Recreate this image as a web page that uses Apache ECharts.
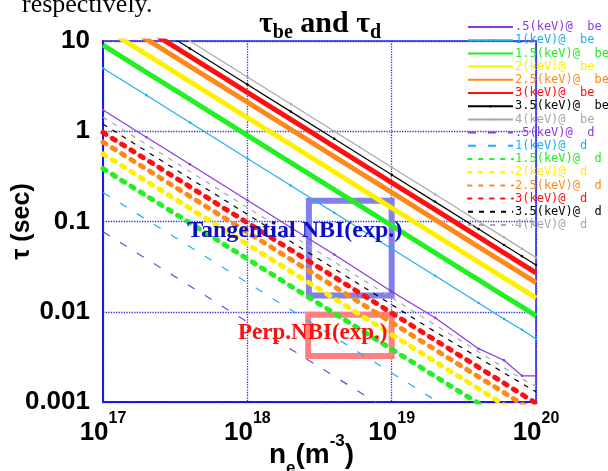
<!DOCTYPE html>
<html><head><meta charset="utf-8">
<script src="https://cdn.jsdelivr.net/npm/echarts@6/dist/echarts.min.js"></script>
<style>html,body{margin:0;padding:0;background:#fff}#c{width:608px;height:471px}</style>
</head><body><div id="c"></div>
<script>
// electron density samples (m^-3)
const ne = [1e17, 2e17, 4e17, 1e18, 2e18, 4e18, 1e19, 2e19, 4e19, 6e19, 8e19, 1e20];

// tau_be (sec) for Te = .5 ... 4 keV
const tauBe05 = [1.72, 0.86, 0.43, 0.172, 0.086, 0.043, 0.0168, 0.0086, 0.0039, 0.0029, 0.00195, 0.00195];
const tauBe10 = [5.0, 2.5, 1.25, 0.5, 0.25, 0.125, 0.05, 0.025, 0.0125, 0.0083, 0.0063, 0.005];
const tauBe15 = [9.0, 4.5, 2.25, 0.9, 0.45, 0.225, 0.09, 0.045, 0.0225, 0.015, 0.0113, 0.009];
const tauBe20 = [14.2, 7.1, 3.55, 1.42, 0.71, 0.355, 0.142, 0.071, 0.0355, 0.0237, 0.0178, 0.0142];
const tauBe25 = [21, 10.5, 5.25, 2.1, 1.05, 0.525, 0.21, 0.105, 0.0525, 0.035, 0.0263, 0.021];
const tauBe30 = [27, 13.5, 6.75, 2.7, 1.35, 0.675, 0.27, 0.135, 0.0675, 0.045, 0.0338, 0.027];
const tauBe35 = [33, 16.5, 8.25, 3.3, 1.65, 0.825, 0.33, 0.165, 0.0825, 0.055, 0.0413, 0.033];
const tauBe40 = [40, 20, 10, 4.0, 2.0, 1.0, 0.4, 0.2, 0.1, 0.0667, 0.05, 0.04];

// tau_d (sec)
const tauD05 = [0.077, 0.0385, 0.0193, 0.0077, 0.00385, 0.00193, 0.00077, 0.000385, 0.000193, 0.000128, 0.0000963, 0.000077];
const tauD10 = [0.21, 0.105, 0.0525, 0.021, 0.0105, 0.00525, 0.0021, 0.00105, 0.000525, 0.00035, 0.000263, 0.00021];
const tauD15 = [0.385, 0.1925, 0.0963, 0.0385, 0.01925, 0.00963, 0.00385, 0.001925, 0.000963, 0.000642, 0.000481, 0.000385];
const tauD20 = [0.56, 0.28, 0.14, 0.056, 0.028, 0.014, 0.0056, 0.0028, 0.0014, 0.000933, 0.0007, 0.00056];
const tauD25 = [0.76, 0.38, 0.19, 0.076, 0.038, 0.019, 0.0076, 0.0038, 0.0019, 0.00127, 0.00095, 0.00076];
const tauD30 = [0.97, 0.485, 0.2425, 0.097, 0.0485, 0.02425, 0.0097, 0.00485, 0.002425, 0.00162, 0.00121, 0.00097];
const tauD35 = [1.2, 0.6, 0.3, 0.12, 0.06, 0.03, 0.012, 0.006, 0.0031, 0.0021, 0.0016, 0.0013];
const tauD40 = [1.43, 0.715, 0.358, 0.143, 0.0715, 0.0358, 0.0143, 0.00715, 0.0036, 0.0024, 0.0018, 0.0015];

const temps = ['.5', '1', '1.5', '2', '2.5', '3', '3.5', '4'];
const xTickExp = ['17', '18', '19', '20'];
const yTickLabels = ['0.001', '0.01', '0.1', '1', '10'];

// annotation boxes [[x1,y1],[x2,y2]] and label anchors
const tangentialBox = [[2.67e18, 0.17], [1e19, 0.0151]];
const perpBox = [[2.64e18, 0.00926], [1e19, 0.00324]];
const tangentialLabelAt = [2.13e18, 0.0794];
const perpLabelAt = [2.84e18, 0.00585];

const colors = ['#8a3be0', '#20aef0', '#22f022', '#fff000', '#ff8a1c', '#ff0f0f', '#000000', '#a8a8a8'];
const beData = [tauBe05, tauBe10, tauBe15, tauBe20, tauBe25, tauBe30, tauBe35, tauBe40];
const dData = [tauD05, tauD10, tauD15, tauD20, tauD25, tauD30, tauD35, tauD40];
const thick = [false, false, true, true, true, true, false, false];
const dotted = [true, true, false, false, false, false, true, true];

const series = [];
const legendData = [];
temps.forEach((t, i) => {
  const name = t + '(keV)@  be';
  series.push({
    name, type: 'line', clip: true, silent: true,
    data: ne.map((n, k) => [n, beData[i][k]]),
    symbol: dotted[i] ? 'circle' : 'none', symbolSize: 2.5,
    itemStyle: { color: colors[i] },
    lineStyle: { color: colors[i], width: thick[i] ? 5 : 1.2, type: 'solid' }
  });
  legendData.push({ name, textStyle: { color: colors[i] } });
});
temps.forEach((t, i) => {
  const name = t + '(keV)@  d';
  let ls;
  if (thick[i]) ls = { color: colors[i], width: 5, type: [3.5, 7.5], cap: 'round' };
  else if (i < 2) ls = { color: colors[i], width: 1.2, type: [8, 12] };
  else ls = { color: colors[i], width: 1.2, type: [5, 6] };
  series.push({
    name, type: 'line', clip: true, silent: true,
    data: ne.map((n, k) => [n, dData[i][k]]),
    symbol: 'none',
    itemStyle: { color: colors[i] },
    lineStyle: ls
  });
  legendData.push({ name, textStyle: { color: colors[i] }, itemStyle: { opacity: 0 } });
});
legendData.forEach((d, i) => { if (i < 8 && !dotted[i]) d.itemStyle = { opacity: 0 }; });

series.push({
  name: 'annot', type: 'line', data: [], silent: true, z: 10,
  markArea: {
    silent: true,
    label: { show: false },
    data: [
      [{ coord: tangentialBox[0], itemStyle: { color: 'rgba(0,0,0,0)', borderColor: '#8080e8', borderWidth: 6 } }, { coord: tangentialBox[1] }],
      [{ coord: perpBox[0], itemStyle: { color: 'rgba(0,0,0,0)', borderColor: '#ff8080', borderWidth: 6 } }, { coord: perpBox[1] }]
    ]
  },
  markPoint: {
    silent: true, symbol: 'circle', symbolSize: 1,
    itemStyle: { color: 'rgba(0,0,0,0)' },
    data: [
      { coord: tangentialLabelAt, label: { show: true, position: 'inside', formatter: 'Tangential NBI(exp.)', color: '#0c0cc4', fontSize: 24, fontWeight: 'bold', fontFamily: 'Liberation Serif' } },
      { coord: perpLabelAt, label: { show: true, position: 'inside', formatter: 'Perp.NBI(exp.)', color: '#ff1010', fontSize: 23, fontWeight: 'bold', fontFamily: 'Liberation Serif' } }
    ]
  }
});

const serif = 'Liberation Serif';
const sans = 'Liberation Sans';
const chart = echarts.init(document.getElementById('c'), null, { renderer: 'canvas' });
chart.setOption({
  animation: false,
  backgroundColor: '#fff',
  title: {
    text: '{t|τ}{s|be}{t| and τ}{s|d}',
    left: 254, top: 0,
    textStyle: {
      rich: {
        t: { fontSize: 30, fontWeight: 'bold', fontFamily: serif, color: '#000', lineHeight: 38 },
        s: { fontSize: 20, fontWeight: 'bold', fontFamily: serif, color: '#000', lineHeight: 20, verticalAlign: 'bottom' }
      }
    }
  },
  graphic: [{
    type: 'text', left: 22, top: -8, silent: true,
    style: { text: 'respectively.', font: '26px "Liberation Serif"', fill: '#000' }
  }],
  legend: {
    orient: 'vertical', left: 467, top: 21, itemWidth: 45, itemHeight: 3, itemGap: 1.2,
    selectedMode: false, padding: 0,
    textStyle: { fontFamily: 'DejaVu Sans Mono', fontSize: 12, lineHeight: 12, padding: [0, 0, 0, -3] },
    data: legendData
  },
  grid: { left: 103, right: 72, top: 41, bottom: 69, outerBoundsMode: 'none', containLabel: false, show: true, borderColor: '#2424e6', borderWidth: 1.5, backgroundColor: 'rgba(0,0,0,0)' },
  xAxis: {
    type: 'log', logBase: 10, min: 1e17, max: 1e20,
    axisLine: { lineStyle: { color: '#1a1ae6', width: 2 } },
    axisTick: { show: false },
    splitLine: { show: true, lineStyle: { color: '#3030e0', type: 'dotted', width: 1.3 } },
    axisLabel: {
      margin: 9, showMinLabel: true, showMaxLabel: true, hideOverlap: false,
      formatter: v => '{b|10}{s|' + xTickExp[Math.round(Math.log10(v)) - 17] + '}',
      rich: {
        b: { fontSize: 26, fontWeight: 'bold', fontFamily: sans, color: '#000', lineHeight: 44 },
        s: { fontSize: 16, fontWeight: 'bold', fontFamily: sans, color: '#000', lineHeight: 16, verticalAlign: 'top' }
      }
    },
    name: '{n|n}{sub|e}{n|(m}{sup|-3}{n|)}',
    nameLocation: 'middle', nameGap: 31, nameMoveOverlap: false,
    nameTextStyle: {
      padding: [0, 16, 0, 0],
      rich: {
        n: { fontSize: 28, fontWeight: 'bold', fontFamily: sans, color: '#000', lineHeight: 44 },
        sub: { fontSize: 17, fontWeight: 'bold', fontFamily: sans, color: '#000', lineHeight: 17, verticalAlign: 'bottom' },
        sup: { fontSize: 17, fontWeight: 'bold', fontFamily: sans, color: '#000', lineHeight: 17, verticalAlign: 'top' }
      }
    }
  },
  yAxis: {
    type: 'log', logBase: 10, min: 0.001, max: 10,
    axisLine: { lineStyle: { color: '#1a1ae6', width: 2 } },
    axisTick: { show: false },
    splitLine: { show: true, lineStyle: { color: '#3030e0', type: 'dotted', width: 1.3 } },
    axisLabel: {
      margin: 13, showMinLabel: true, showMaxLabel: true, hideOverlap: false,
      fontSize: 26, fontWeight: 'bold', fontFamily: sans, color: '#000',
      formatter: v => yTickLabels[Math.round(Math.log10(v)) + 3]
    },
    name: 'τ (sec)', nameLocation: 'middle', nameGap: 68, nameRotate: 90, nameMoveOverlap: false,
    nameTextStyle: { fontSize: 25, fontWeight: 'bold', fontFamily: sans, color: '#000', padding: [0, 0, 0, 0] }
  },
  series
});
</script>
</body></html>
